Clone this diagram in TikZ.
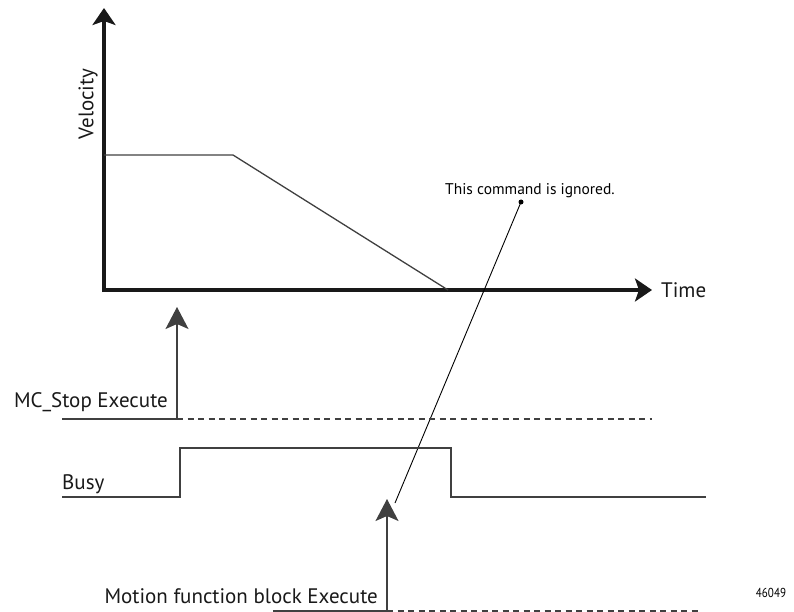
\documentclass[tikz,border=0pt]{standalone}
\usepackage{fontspec}
\setmainfont{PT Sans}
\usetikzlibrary{arrows.meta}
\begin{document}
\begin{tikzpicture}[x=1bp,y=-1bp,
  axis/.style={line width=4bp,black!90,-{Stealth[length=17bp,width=23bp,inset=4bp]}},
  thin/.style={line width=1.3bp,black!75},
  sig/.style={line width=1.3bp,black!75,-{Stealth[length=22bp,width=23bp,inset=5bp]}},
  dsh/.style={line width=1.1bp,black!75,dash pattern=on 6bp off 4.5bp},
  lbl/.style={font=\fontsize{21bp}{24bp}\selectfont,inner sep=0pt,text=black!90}]
\useasboundingbox (0,0) rectangle (794,612);
% axes
\coordinate (O) at (104,290);
\coordinate (Vtip) at (104,8);
\coordinate (Ttip) at (652,290);
\draw[axis] (104,292) -- (Vtip);
\draw[axis] (102,290) -- (Ttip);
\node[lbl,rotate=90] (vel) at (88,104) {Velocity};
\node[lbl,anchor=west] (time) at (661,290) {Time};
% velocity profile
\coordinate (p0) at (104,155);
\coordinate (p1) at (233,155);
\coordinate (p2) at (448,290);
\draw[thin] (p0) -- (p1) -- (p2);
% ignored annotation
\node[font=\fontsize{15.5bp}{18bp}\selectfont,inner sep=0pt] (ign) at (530,191) {This command is ignored.};
\coordinate (dot) at (521,202);
\coordinate (lend) at (395,503);
\fill (dot) circle (2.5bp);
\draw[line width=0.9bp] (dot) -- (lend);
% MC_Stop
\coordinate (s0) at (62,419);
\coordinate (s1) at (177,419);
\coordinate (s2) at (177,307);
\coordinate (s3) at (652,419);
\draw[thin] (s0) -- (s1);
\draw[sig] (s1) -- (s2);
\draw[dsh] (s1) -- (s3);
\node[lbl,anchor=base east] (stop) at (168,407) {MC\_Stop Execute};
% Busy
\coordinate (b0) at (62,497);
\coordinate (b1) at (180,497);
\coordinate (b2) at (180,448);
\coordinate (b3) at (451,448);
\coordinate (b4) at (451,497);
\coordinate (b5) at (706,497);
\draw[thin] (b0) -- (b1) -- (b2) -- (b3) -- (b4) -- (b5);
\node[lbl,anchor=base west] (busy) at (62,489) {Busy};
% Motion execute
\coordinate (m0) at (273,611);
\coordinate (m1) at (387,611);
\coordinate (m2) at (387,499);
\coordinate (m3) at (700,611);
\draw[thin] (m0) -- (m1);
\draw[sig] (m1) -- (m2);
\draw[dsh] (m1) -- (m3);
\node[lbl,anchor=base east] (motion) at (378,603) {Motion function block Execute};
\node[font=\fontsize{13bp}{15bp}\selectfont,inner sep=0pt,xscale=0.85] (id) at (771,593) {46049};
\end{tikzpicture}
\end{document}
